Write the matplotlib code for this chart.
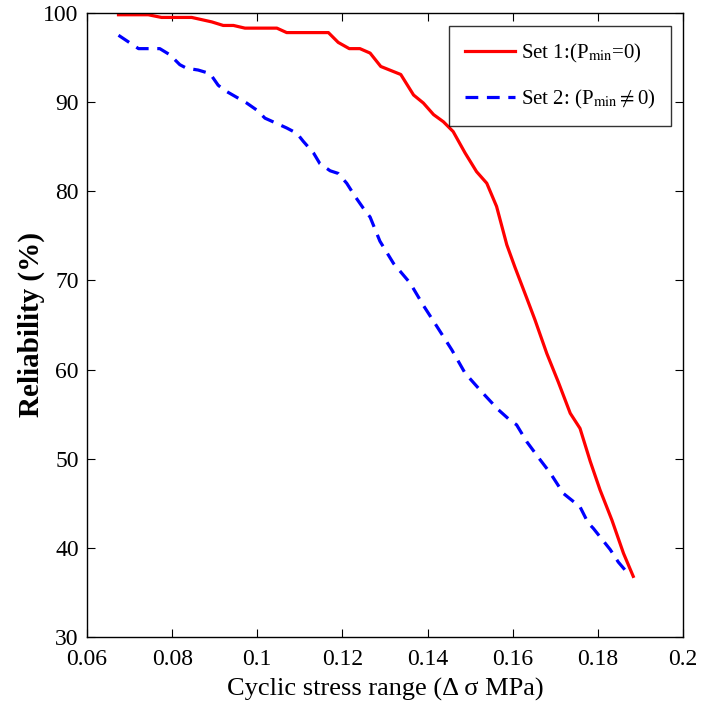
import matplotlib
matplotlib.use("Agg")
import matplotlib.pyplot as plt
import numpy as np

plt.rcParams.update({
    "font.family": ["Liberation Serif", "DejaVu Serif"],
    "mathtext.fontset": "stix",
    "xtick.direction": "in",
    "ytick.direction": "in",
    "xtick.top": True,
    "ytick.right": True,
})

# Set 1: P_min = 0
x_set1 = [0.0674, 0.0744, 0.0775, 0.0846, 0.0893, 0.0920, 0.0944, 0.0971, 0.1046,
          0.1069, 0.1167, 0.1190, 0.1216, 0.1241, 0.1265, 0.1290, 0.1337, 0.1367,
          0.1390, 0.1414, 0.1437, 0.1460, 0.1488, 0.1515, 0.1539, 0.1562, 0.1586,
          0.1605, 0.1633, 0.1652, 0.1680, 0.1707, 0.1735, 0.1758, 0.1782, 0.1805,
          0.1833, 0.1860, 0.1883]
y_set1 = [99.8, 99.8, 99.5, 99.5, 99.0, 98.6, 98.6, 98.3, 98.3,
          97.8, 97.8, 96.7, 96.0, 96.0, 95.5, 94.0, 93.1, 90.8,
          89.9, 88.6, 87.8, 86.7, 84.3, 82.2, 80.9, 78.3, 74.0,
          71.5, 68.0, 65.6, 61.8, 58.6, 55.1, 53.4, 49.7, 46.5,
          43.1, 39.4, 36.8]

# Set 2: P_min != 0
x_set2 = [0.0674, 0.0721, 0.0771, 0.0795, 0.0818, 0.0834, 0.0861, 0.0889, 0.0908,
          0.0924, 0.0975, 0.0999, 0.1018, 0.1046, 0.1069, 0.1093, 0.1108, 0.1132,
          0.1147, 0.1171, 0.1190, 0.1210, 0.1230, 0.1249, 0.1265, 0.1288, 0.1320,
          0.1359, 0.1390, 0.1425, 0.1457, 0.1488, 0.1527, 0.1566, 0.1594, 0.1609,
          0.1633, 0.1664, 0.1688, 0.1719, 0.1758, 0.1777, 0.1789, 0.1829, 0.1848,
          0.1864]
y_set2 = [97.5, 96.0, 96.0, 95.3, 94.2, 93.8, 93.6, 93.2, 91.9,
          91.3, 89.9, 89.1, 88.2, 87.6, 87.1, 86.5, 85.6, 84.3,
          83.1, 82.3, 82.0, 80.9, 79.4, 78.1, 77.1, 74.4, 71.9,
          69.7, 67.2, 64.6, 62.2, 59.6, 57.5, 55.5, 54.3, 53.8,
          51.9, 49.9, 48.4, 46.1, 44.6, 42.8, 42.2, 39.8, 38.4,
          37.5]

xticks = [0.06, 0.08, 0.1, 0.12, 0.14, 0.16, 0.18, 0.2]
xtick_labels = ["0.06", "0.08", "0.1", "0.12", "0.14", "0.16", "0.18", "0.2"]
yticks = [30, 40, 50, 60, 70, 80, 90, 100]

fig = plt.figure(figsize=(7.19, 7.17), dpi=100)
ax = fig.add_axes([0.121, 0.1116, 0.829, 0.8703])

ax.plot(x_set1, y_set1, color="#ff0000", linewidth=2.3, label=r"Set 1:(P$_{\rm min}$=0)")
ax.plot(x_set2, y_set2, color="#0000ff", linewidth=2.3, dashes=(4, 2.7),
        label=r"Set 2: (P$_{\rm min}$$\neq$0)")

ax.set_xlim(0.06, 0.2)
ax.set_ylim(30, 100)
ax.set_xticks(xticks)
ax.set_xticklabels(xtick_labels)
ax.set_yticks(yticks)
ax.tick_params(labelsize=17, length=6, width=0.8)
ax.tick_params(axis="x", pad=9)
ax.tick_params(axis="y", pad=6)
for s in ax.spines.values():
    s.set_linewidth(1.0)

ax.set_xlabel("Cyclic stress range (\u0394 \u03c3 MPa)", fontsize=19, labelpad=5)
ax.set_ylabel("Reliability (%)", fontsize=21, fontweight="semibold", labelpad=-1)

leg = ax.legend(loc="upper right", fontsize=15, frameon=True, fancybox=False,
                edgecolor="black", handlelength=2.4, handletextpad=0.3,
                labelspacing=1.1, borderpad=0.75, borderaxespad=0,
                bbox_to_anchor=(0.98, 0.979))
leg.get_frame().set_linewidth(1.0)

fig.savefig("out.png", dpi=100)
